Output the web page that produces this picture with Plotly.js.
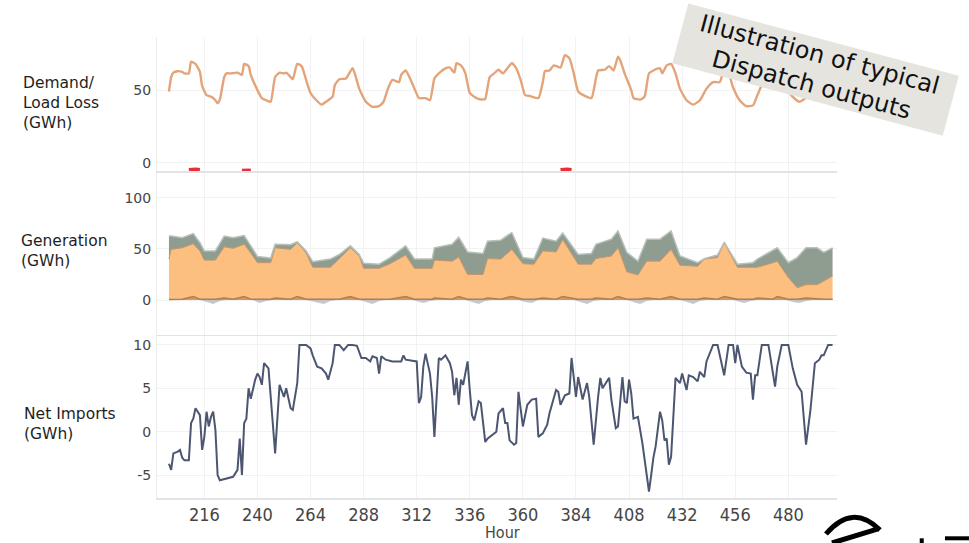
<!DOCTYPE html>
<html>
<head>
<meta charset="utf-8">
<script src="https://cdn.plot.ly/plotly-3.0.1.min.js"></script>
<style>html,body{margin:0;padding:0;background:#fff;}#chart{width:969px;height:543px;}</style>
</head>
<body>
<div id="chart"></div>
<script>
// ---------- Demand (GWh) ----------
const demandHours = [200,201,202,204,206,207,209,210,212,214,
215,217,219,221,222,223,225,226,228,231,
233,234,236,237,240,242,244,246,248,250,
252,253,255,256,258,260,262,264,267,269,
271,274,275,277,280,283,284,286,289,292,
295,297,299,301,304,305,307,309,311,313,
316,318,320,322,325,327,329,330,332,334,
336,339,342,343,345,347,349,351,353,355,
357,359,361,363,367,369,370,372,374,377,
379,381,383,385,388,391,393,394,397,399,
401,403,404,406,409,410,413,415,417,419,
422,423,425,427,429,431,434,437,440,443,
446,449,451,453,455,458,461,464,466,468,
470,473,475,477,479,481,485,488,490,492,
494,496,498,500];
const demandGWh = [49,59,62,63,62.5,61.5,61.5,69.5,68,62.5,
53,46.5,45.5,43,41,43.5,59,61.5,61.5,62,
60.5,68,66.5,60.5,50,44.5,43,42,59,62,
61.5,62,59,57.5,68,66.5,57,48,42.5,40,
42,45.5,53.5,57.5,58,65,61.5,51,42,38.5,
39,42,51,57,55.5,60.5,63.5,58,51,44.5,
44.5,43,58,61.5,65,65.5,62,68.5,67,61.5,
48,44.5,43.5,44,59,61.5,64,61.5,65,68.5,
65,57,46.5,46,44.5,55.5,63,63.5,67,65.5,
74,72,61.5,49,46,44.5,58,63.5,64,66.5,
63.5,73,70.5,61.5,50,44.5,43.5,45.5,61.5,63.5,
65,61.5,67,68,61.5,51,43,40,43,51,
55.5,55.5,64,61.5,52,43,39,39.5,46.5,53.5,
57,54.5,61.5,63.5,59,47,42,45,52,60,
62,64,66,64];

// ---------- Load loss (GWh) ----------
const lossHours = [209,210,211,212,213,214,215,233,234,235,236,237,238,377,378,379,380,381,382];
const lossGWh   = [0.4,0.5,0.6,0.6,0.5,0.4,null,0.2,0.3,0.3,0.3,0.2,null,0.4,0.5,0.6,0.6,0.5,0.4];

// ---------- Generation (GWh), stacked ----------
const genHours = [200,201,206,211,214,216,221,225,229,234,
237,240,246,248,255,258,262,265,273,277,
282,286,288,295,300,307,311,319,320,328,
331,335,342,344,350,355,360,365,369,375,
378,385,391,393,400,403,407,412,416,422,
427,431,439,442,448,451,457,464,466,473,
475,480,484,488,493,496,500];
const genOther = [0.5,0.5,0.8,3.5,0.8,0.8,0.8,2,0.8,3.5,
0.8,0.8,0.8,2,0.8,3.5,0.8,0.8,0.8,0.8,
3.5,0.8,0.8,0.8,0.8,3.5,0.8,0.8,2,0.8,
3.5,0.8,0.8,2,0.8,3.5,0.8,0.8,2,0.8,
3.5,0.8,0.8,2,0.8,3.5,0.8,0.8,2,0.8,
3.5,0.8,0.8,2,0.8,3.5,0.8,0.8,2,0.8,
3.5,0.8,0.8,2,0.8,0.8,0.8];
const genThermal = [39.5,49,50.2,51.5,47.2,38.2,38.2,50,49.7,51,
45.2,35.7,35.7,49,48.7,52.5,45.2,31.2,31.2,39.2,
47.5,42.2,30.2,30.2,34.7,40.5,30.2,30.2,37,37.2,
38.5,24.2,24.2,38.5,39.2,46,34.7,34.2,46,46.2,
55.5,34.2,34.2,38.5,42.2,47.5,26.7,23.7,36,37.2,
46,33.2,32.2,38,40.7,52.5,31.2,31.2,30,35.7,
34.5,21.2,11.2,13,14.2,17.7,22.7];
const genRenew = [22.5,13,10,10,8,9,9,10.5,10.5,8.5,
7,6,4.5,3.5,4.5,1,2,5.5,8,4.5,
2,1.5,5,4,6,9,9,9,12,16.5,
19.5,22,20.5,17,18.5,16.5,6,5,12.5,10.5,
6.5,9.5,10.5,14,16.5,16.5,19,13.5,21.5,21.5,
18,9,3.5,0.5,2.5,0.5,3,4.5,8,11.5,
13,14.5,29.5,36,36,28,27.5];
const chargeHours = [200,214,217,220,223,226,238,241,244,247,
262,266,270,273,276,286,289,292,295,298,
310,313,315,318,321,334,337,340,343,346,
358,361,364,367,383,386,389,392,395,407,
410,413,416,419,431,434,437,440,443,455,
458,460,463,466,479,482,485,488,491,500];
const chargeGWh = [0,0,-2,-4,-1,0,0,-3,-1,0,
0,-2,-4,-1,0,0,-2,-4,-1,0,
0,-2,-3,-1,0,0,-2,-4,-1,0,
0,-2,-3,0,0,-2,-4,-1,0,0,
-2,-4,-1,0,0,-2,-4,-1,0,0,
-2,-3,-1,0,0,-2,-3,-1,0,0];

// ---------- Net imports (GWh) ----------
const importHours = [200,201,202,204,205,206,207,209,210,211,
212,214,215,216,217,218,219,220,221,222,
223,226,229,231,232,233,234,235,236,237,
239,240,241,242,243,245,246,248,250,251,
252,253,255,256,258,259,262,264,265,267,
269,271,272,274,275,277,279,281,283,285,
287,289,291,292,294,295,296,298,301,305,
306,307,312,313,314,315,316,318,319,320,
321,322,323,325,327,328,329,330,331,332,
333,335,336,337,338,340,341,343,344,347,
348,349,351,352,353,354,356,357,358,360,
362,364,366,367,369,371,372,375,376,377,
379,381,382,384,385,387,389,390,392,394,
395,396,399,400,402,403,405,406,407,408,
409,410,412,414,416,417,418,419,420,422,
423,424,425,426,427,429,431,432,434,435,
437,439,440,442,443,446,448,449,451,453,
455,456,457,459,461,463,464,465,466,468,
471,474,475,477,480,482,484,486,488,490,
492,494,495,496,498,500];
const importGWh = [-3.7,-4.4,-2.5,-2.3,-2.1,-3.0,-3.3,-3.3,1.0,1.5,
2.7,1.9,-2.1,-0.6,2.3,0.6,1.7,2.3,0.2,-5.0,
-5.6,-5.4,-5.2,-4.4,-0.8,-5.0,1.0,1.5,5.0,3.8,
6.0,6.7,6.3,5.4,7.9,7.3,4.0,-2.5,5.4,4.8,
4.0,5.0,2.7,2.5,5.6,10,10,9.6,8.8,7.5,
7.3,6.7,6.0,7.9,10,10,9.4,10,10,9.9,
8.5,8.5,8.1,8.7,8.5,6.7,8.7,8.3,8.1,8.1,
8.8,8.3,8.1,3.3,4.0,7.5,9.0,6.7,4.0,-0.6,
4.0,8.5,8.3,8.8,7.9,6.9,4.2,6.2,3.1,6.0,
5.4,8.1,4.8,1.9,1.3,3.5,3.3,-1.2,-0.8,-0.2,
0,2.1,2.7,1.0,1.0,-1.0,-1.5,-1.3,4.6,0.6,
3.1,3.7,3.8,-0.6,-0.2,0.8,2.1,4.8,4.6,3.1,
4.2,4.4,8.5,4.0,6.3,3.7,5.6,4.0,-1.5,4.0,
6.2,5.0,6.2,3.7,0.4,0.6,6.3,3.5,3.3,6.0,
4.4,1.5,1.7,-1.3,-4.8,-6.9,-5.0,-3.0,-1.7,2.3,
1.3,-1.0,-0.8,-3.8,-2.9,6.2,5.6,6.7,4.8,6.5,
6.3,5.8,6.9,6.3,8.1,10,10,8.7,6.5,10,
10,7.9,10,7.5,6.8,6.7,3.7,6.5,6.5,10,
10,5.2,7.5,10,10,7.3,5.4,4.6,-1.5,2.5,
7.9,8.3,8.8,8.8,10,10];

const topTicks = [0, 50];
const midTicks = [0, 50, 100];
const botTicks = [-5, 0, 5, 10];
const botTickText = ['-5', '0', '5', '10'];

const tickFont = {family: 'DejaVu Sans, Verdana, sans-serif', size: 14, color: '#454545'};
const xFont = {family: 'Liberation Sans Narrow, DejaVu Sans Condensed, Liberation Sans, sans-serif', size: 18, color: '#454545'};
const sideFont = {family: 'DejaVu Sans, Verdana, sans-serif', size: 15.5, color: '#1e1e1e'};
const gridC = '#f2f2f2';
const lineC = '#e3e3e3';

const traces = [
  {x: demandHours, y: demandGWh, xaxis: 'x3', yaxis: 'y', mode: 'lines', type: 'scatter',
   line: {color: 'rgb(228,164,122)', width: 2.4, shape: 'spline', smoothing: 0.5}},
  {x: lossHours, y: lossGWh, xaxis: 'x3', yaxis: 'y4', mode: 'lines', type: 'scatter',
   line: {color: '#e8303c', width: 3.5}, connectgaps: false},
  {x: chargeHours, y: chargeGWh, xaxis: 'x2', yaxis: 'y2', mode: 'lines', type: 'scatter',
   fill: 'tozeroy', fillcolor: 'rgba(170,170,174,0.65)', line: {width: 0, color: 'rgba(0,0,0,0)'}},
  {x: genHours, y: genOther, xaxis: 'x2', yaxis: 'y2', mode: 'lines', type: 'scatter', stackgroup: 'gen',
   fillcolor: 'rgb(214,150,92)', line: {color: 'rgb(176,126,80)', width: 1.5}},
  {x: genHours, y: genThermal, xaxis: 'x2', yaxis: 'y2', mode: 'lines', type: 'scatter', stackgroup: 'gen',
   fillcolor: 'rgb(253,191,128)', line: {color: 'rgb(196,150,104)', width: 1}},
  {x: genHours, y: genRenew, xaxis: 'x2', yaxis: 'y2', mode: 'lines', type: 'scatter', stackgroup: 'gen',
   fillcolor: 'rgb(143,157,145)', line: {color: 'rgb(184,192,186)', width: 1.5}},
  {x: importHours, y: importGWh, xaxis: 'x', yaxis: 'y3', mode: 'lines', type: 'scatter',
   line: {color: 'rgb(76,86,112)', width: 2}}
];

const xCommon = {range: [194.6, 502], tick0: 0, dtick: 24, showgrid: true, gridcolor: gridC,
  zeroline: false, showline: true, linecolor: lineC, linewidth: 1.5, ticks: ''};

const yCommon = {showgrid: true, gridcolor: gridC, zeroline: false, showline: true,
  linecolor: '#ececec', linewidth: 1, ticks: '', tickfont: tickFont, ticklabelstandoff: 2};

const layout = {
  width: 969, height: 543,
  margin: {l: 157, r: 132, t: 37, b: 45},
  paper_bgcolor: '#ffffff', plot_bgcolor: '#ffffff',
  showlegend: false,
  xaxis: Object.assign({}, xCommon, {anchor: 'y3', tickfont: xFont}),
  xaxis2: Object.assign({}, xCommon, {anchor: 'y2', matches: 'x', showticklabels: false}),
  xaxis3: Object.assign({}, xCommon, {anchor: 'y', matches: 'x', showticklabels: false}),
  yaxis: Object.assign({}, yCommon, {domain: [0.709, 1], range: [-5.7, 86.5], tickvals: topTicks}),
  yaxis4: {overlaying: 'y', range: [0, 40], visible: false},
  yaxis2: Object.assign({}, yCommon, {domain: [0.3536, 0.709], range: [-34.2, 126], tickvals: midTicks}),
  yaxis3: Object.assign({}, yCommon, {domain: [0, 0.3536], range: [-7.65, 11.15], tickvals: botTicks, ticktext: botTickText}),
  annotations: [
    {text: 'Hour', xref: 'paper', yref: 'paper', x: 0.5088, y: -0.0972,
     xanchor: 'center', yanchor: 'bottom', showarrow: false, borderpad: 0,
     font: {family: xFont.family, size: 16, color: '#454545'}},
    {text: 'Demand/<br>Load Loss<br>(GWh)', xref: 'paper', yref: 'paper', x: -0.2, y: 0.856,
     xanchor: 'left', yanchor: 'middle', align: 'left', showarrow: false, font: sideFont},
    {text: 'Generation<br>(GWh)', xref: 'paper', yref: 'paper', x: -0.2029, y: 0.536,
     xanchor: 'left', yanchor: 'middle', align: 'left', showarrow: false, font: sideFont},
    {text: 'Net Imports<br>(GWh)', xref: 'paper', yref: 'paper', x: -0.1985, y: 0.161,
     xanchor: 'left', yanchor: 'middle', align: 'left', showarrow: false, font: sideFont},
    {text: '\u00a0\u00a0Illustration of typical\u00a0\u00a0<br>Dispatch outputs', xref: 'paper', yref: 'paper',
     x: 0.968, y: 0.929, xanchor: 'center', yanchor: 'middle', align: 'center', showarrow: false,
     textangle: 15, bgcolor: '#e6e4df', borderpad: 1,
     font: {family: 'DejaVu Sans, Verdana, sans-serif', size: 24, color: '#111111'}}
  ],
  shapes: [
    {type: 'path', xref: 'paper', yref: 'paper',
     path: 'M 0.9838 -0.0781 Q 1.0221 -0.0104 1.0632 -0.0694',
     line: {color: '#000', width: 5}},
    {type: 'path', xref: 'paper', yref: 'paper',
     path: 'M 0.9926 -0.0976 L 1.0603 -0.0672',
     line: {color: '#000', width: 5}},
    {type: 'line', xref: 'paper', yref: 'paper', x0: 1.1246, x1: 1.1246, y0: -0.0874, y1: -0.1,
     line: {color: '#000', width: 4}},
    {type: 'line', xref: 'paper', yref: 'paper', x0: 1.1588, x1: 1.2, y0: -0.0874, y1: -0.0874,
     line: {color: '#000', width: 4}}
  ]
};

Plotly.newPlot('chart', traces, layout, {displayModeBar: false, staticPlot: true});
</script>
</body>
</html>
